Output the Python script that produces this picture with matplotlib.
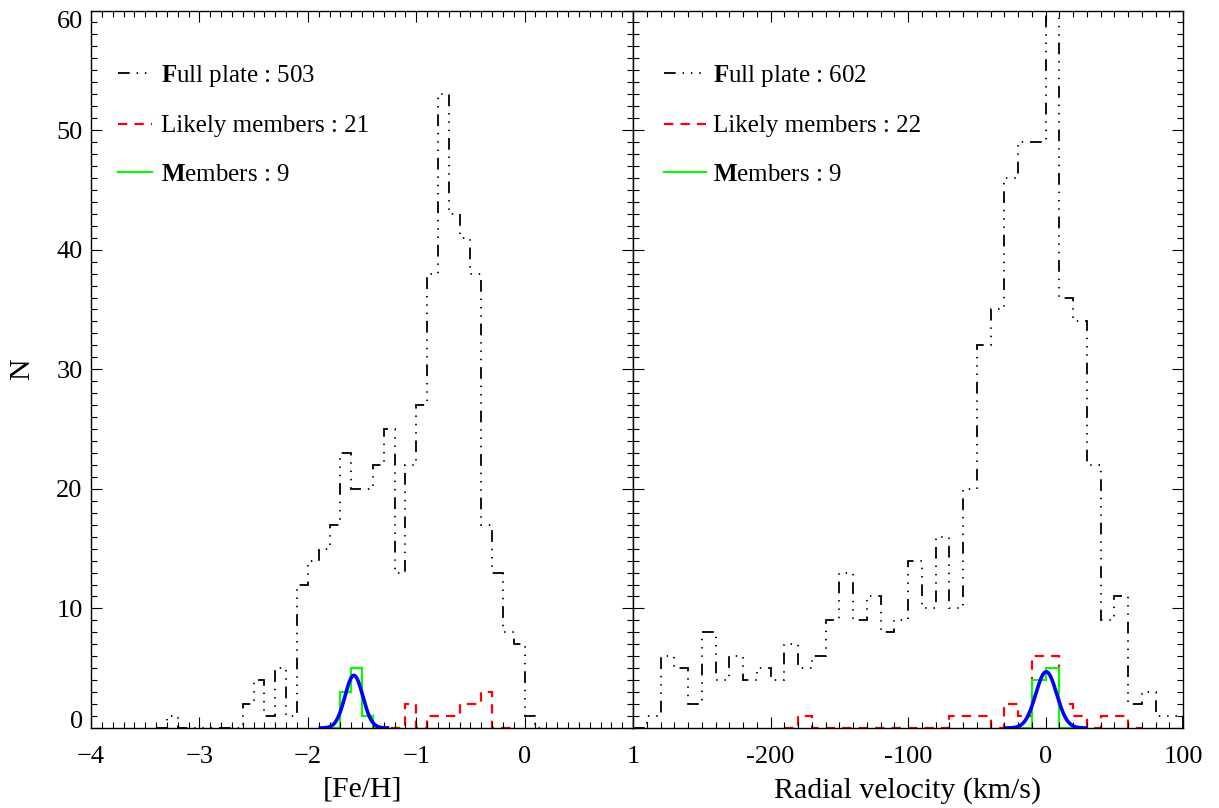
import numpy as np
import matplotlib
matplotlib.use("Agg")
import matplotlib.pyplot as plt
from matplotlib.lines import Line2D
from matplotlib.ticker import MultipleLocator, FixedLocator, FixedFormatter

plt.rcParams['font.family'] = ['Liberation Serif', 'DejaVu Serif']
plt.rcParams['font.size'] = 19
plt.rcParams['mathtext.fontset'] = 'custom'
plt.rcParams['mathtext.rm'] = 'Liberation Serif'
plt.rcParams['mathtext.bf'] = 'Liberation Serif:bold'

# ---- [Fe/H] histograms (bin 0.1 dex) ----
feh_bin = 0.1
feh_full_lo = -3.4
feh_full = [0, 1, 0, 0, 0, 0, 0, 0, 2, 4, 1, 5, 1, 12, 14, 15, 17, 23, 20, 20,
            22, 25, 13, 22, 27, 38, 53, 43, 41, 38, 17, 13, 8, 7, 1, 0]
feh_likely_lo = -1.8
feh_likely = [0, 3, 5, 1, 0, 0, 0, 2, 0, 1, 1, 1, 2, 2, 3, 0, 0]
feh_memb_lo = -1.8
feh_memb = [0, 3, 5, 1, 0]
feh_fit = dict(mu=-1.575, sigma=0.082, amp=4.4, half=0.31)

# ---- radial velocity histograms (bin 10 km/s) ----
rv_bin = 10
rv_full_lo = -300
rv_full = [0, 1, 6, 5, 2, 8, 4, 6, 4, 5, 4, 7, 5, 6, 9, 13, 9, 11, 8, 9,
           14, 10, 16, 10, 20, 32, 35, 46, 49, 49, 80, 36, 34, 22, 9, 11, 2, 3, 1, 1]
rv_likely_lo = -190
rv_likely = [0, 1, 0, 0, 0, 0, 0, 0, 0, 0, 0, 0, 1, 1, 1, 0, 2, 1, 6, 6, 2, 1, 0, 1, 1, 0]
rv_memb_lo = -20
rv_memb = [0, 4, 5, 0, 0]
rv_fit = dict(mu=0.5, sigma=7.6, amp=4.7, half=29)

n_ticks = [0, 10, 20, 30, 40, 50, 60]

legend_left = [r"$\mathbf{F}$ull plate : 503", "Likely members : 21", r"$\mathbf{M}$embers : 9"]
legend_right = [r"$\mathbf{F}$ull plate : 602", "Likely members : 22", r"$\mathbf{M}$embers : 9"]

full_style = dict(color='black', lw=1.3, linestyle=(0, (6.5, 3.8, 0.8, 3.8, 0.8, 3.8, 0.8, 3.8)))
likely_style = dict(color='red', lw=1.6, linestyle=(0, (4.2, 3.2)))
memb_style = dict(color='#00ff00', lw=1.5, linestyle='-')
fit_style = dict(color='#0000ff', lw=2.6)


def edges(lo, width, vals):
    return lo + width * np.arange(len(vals) + 1)


fig = plt.figure(figsize=(12.19, 8.08), dpi=100)
ax1 = fig.add_axes([0.0747, 0.0990, 0.4446, 0.888])
ax2 = fig.add_axes([0.5193, 0.0990, 0.4512, 0.888])

panels = [
    (ax1, feh_bin, feh_full_lo, feh_full, feh_likely_lo, feh_likely, feh_memb_lo, feh_memb, feh_fit,
     legend_left, 0.05, 1.35, 0.35),
    (ax2, rv_bin, rv_full_lo, rv_full, rv_likely_lo, rv_likely, rv_memb_lo, rv_memb, rv_fit,
     legend_right, 0.057, 1.65, 0.28),
]

for ax, w, flo, full, llo, likely, mlo, memb, fit, labels, lx, hl, hp in panels:
    ax.stairs(full, edges(flo, w, full), fill=False, **full_style)
    ax.stairs(likely, edges(llo, w, likely), fill=False, **likely_style)
    ax.stairs(memb, edges(mlo, w, memb), fill=False, **memb_style)
    xg = np.linspace(fit['mu'] - fit['half'], fit['mu'] + fit['half'], 300)
    ax.plot(xg, fit['amp'] * np.exp(-0.5 * ((xg - fit['mu']) / fit['sigma']) ** 2), **fit_style)

    handles = [Line2D([], [], **full_style), Line2D([], [], **likely_style), Line2D([], [], **memb_style)]
    ax.legend(handles, labels, loc='upper left', bbox_to_anchor=(lx, 0.927), frameon=False,
              borderpad=0, borderaxespad=0, handlelength=hl, handletextpad=hp,
              labelspacing=1.04, fontsize=18)

    ax.set_ylim(0, 60)
    ax.yaxis.set_major_locator(FixedLocator(n_ticks))
    ax.yaxis.set_minor_locator(MultipleLocator(1))
    ax.tick_params(which='both', direction='in', top=True, right=True, left=True, bottom=True,
                   width=0.8, color='black')
    ax.tick_params(which='major', length=8, labelsize=19)
    ax.tick_params(which='minor', length=4.3)
    ax.tick_params(axis='x', pad=13)
    ax.tick_params(axis='y', pad=6)
    for s in ax.spines.values():
        s.set_linewidth(1.0)

ax1.set_xlim(-4, 1)
ax1.xaxis.set_major_locator(MultipleLocator(1))
ax1.xaxis.set_minor_locator(MultipleLocator(0.1))
ax1.set_xlabel("[Fe/H]", fontsize=21.5)
ax1.set_ylabel("N", fontsize=21.5)
ax1.xaxis.set_label_coords(0.5, -0.068)
ax1.yaxis.set_label_coords(-0.103, 0.5)

ax2.set_xlim(-300, 100)
ax2.xaxis.set_major_locator(FixedLocator([-300, -200, -100, 0, 100]))
ax2.xaxis.set_major_formatter(FixedFormatter(["", "-200", "-100", "0", "100"]))
ax2.xaxis.set_minor_locator(MultipleLocator(10))
ax2.tick_params(axis='y', labelleft=False)
ax2.set_xlabel("Radial velocity (km/s)", fontsize=21.5)
ax2.xaxis.set_label_coords(0.5, -0.068)

# end labels of the N axis sit inside the frame, as in the original
fig.canvas.draw()
for t in ax1.yaxis.get_major_ticks():
    if t.get_loc() == n_ticks[0]:
        t.label1.set_verticalalignment('baseline')
    elif t.get_loc() == n_ticks[-1]:
        t.label1.set_verticalalignment('top')

fig.savefig("out.png", dpi=100)
